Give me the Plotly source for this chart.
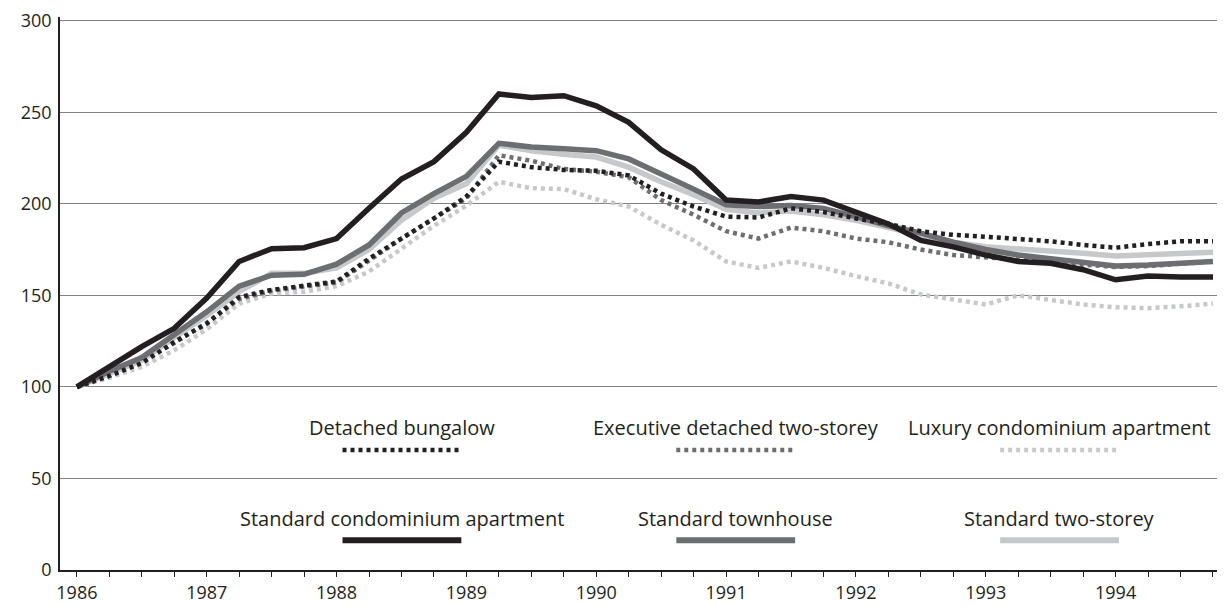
import plotly.graph_objects as go

# --- Data: quarterly index (1986 Q1 = 100), 1986 Q1 .. 1994 Q4 ----------------

years = [1986, 1987, 1988, 1989, 1990, 1991, 1992, 1993, 1994]
quarters = list(range(36))

detached_bungalow = [
    100, 106, 113, 124.5, 134.5, 149, 153, 155.5, 157.5, 170, 181, 192,
    204, 223, 220, 218.5, 218, 215.5, 205.5, 198.5, 193, 192.5, 197.5, 195.5,
    192, 189, 185, 183, 182, 181, 179.5, 177.5, 176, 178, 179.5, 179.5,
]
executive_two_storey = [
    100, 106, 114, 124, 135, 148, 152.5, 155, 157, 169, 181, 192,
    203, 226.5, 223.5, 219, 217.5, 214.5, 202, 194, 185, 181, 187, 185,
    181, 179, 175, 172, 171, 169.5, 168, 166.5, 165.5, 166, 167, 168.5,
]
luxury_condo = [
    100, 105, 111, 120, 131.5, 145.5, 151, 152, 155, 163, 175.5, 188,
    199, 212, 208.5, 208, 202.5, 198.5, 188.5, 180, 168.5, 165, 168.5, 165,
    160.5, 156.5, 150.5, 148, 145, 150, 147.5, 145, 143.5, 143, 144, 145.5,
]
standard_condo = [
    100, 111, 122, 132, 148.5, 168.5, 175.5, 176, 181, 197.5, 213.5, 223,
    239, 260, 258, 259, 253.5, 244.5, 229.5, 219, 202, 201, 204, 202,
    195.5, 189, 180, 176.5, 172, 168.5, 167.5, 164, 158.5, 160.5, 160, 160,
]
standard_townhouse = [
    100, 108.5, 116, 128.5, 141, 155, 161, 161.5, 167, 177.5, 195, 205.5,
    215, 233, 231, 230, 229, 224.5, 216.5, 208, 199.5, 198.5, 199, 197.5,
    193, 188, 184, 179, 175, 172, 170, 168, 166, 166.5, 167.5, 168.5,
]
standard_two_storey = [
    100, 107.5, 114.5, 127, 139, 152, 162, 162, 165, 175, 191, 203,
    211, 232, 229, 227, 225.5, 220, 212, 205, 197, 195, 196, 194,
    191, 187, 183, 179, 176.5, 175.5, 174.5, 173, 171.5, 172, 173, 173.5,
]

# --- Styling ------------------------------------------------------------------

INK = "#231f20"
DARK = "#6d6e71"
LIGHT = "#c7c8ca"
FONT = "Open Sans"
DOTS = "4px,4px"

series = [
    # (name, values, colour, dotted)
    ("Luxury condominium apartment", luxury_condo, LIGHT, True),
    ("Executive detached two-storey", executive_two_storey, DARK, True),
    ("Standard two-storey", standard_two_storey, LIGHT, False),
    ("Standard townhouse", standard_townhouse, DARK, False),
    ("Standard condominium apartment", standard_condo, INK, False),
    ("Detached bungalow", detached_bungalow, INK, True),
]

# legend layout (paper coords): name -> (x centre, text y, swatch y)
legend_slots = {
    "Detached bungalow": (0.2935, 0.257, 0.217),
    "Executive detached two-storey": (0.580, 0.257, 0.217),
    "Luxury condominium apartment": (0.858, 0.257, 0.217),
    "Standard condominium apartment": (0.2935, 0.094, 0.054),
    "Standard townhouse": (0.580, 0.094, 0.054),
    "Standard two-storey": (0.858, 0.094, 0.054),
}
SWATCH_HALF = 0.051

fig = go.Figure()
for name, values, colour, dotted in series:
    fig.add_trace(
        go.Scatter(
            x=quarters,
            y=values,
            mode="lines",
            name=name,
            line={
                "color": colour,
                "width": 4.5 if dotted else 5.5,
                "dash": DOTS if dotted else "solid",
            },
            showlegend=False,
            hoverinfo="skip",
        )
    )

shapes = []
annotations = []
for name, values, colour, dotted in series:
    xc, ty, sy = legend_slots[name]
    shapes.append(
        dict(
            type="line", xref="paper", yref="paper",
            x0=xc - SWATCH_HALF, x1=xc + SWATCH_HALF, y0=sy, y1=sy,
            line={
                "color": colour,
                "width": 4.5 if dotted else 6,
                "dash": DOTS if dotted else "solid",
            },
        )
    )
    annotations.append(
        dict(
            text=name, xref="paper", yref="paper", x=xc, y=ty,
            xanchor="center", yanchor="middle", showarrow=False,
            font={"family": FONT, "size": 20, "color": INK},
        )
    )

tick_text = [str(years[i // 4]) if i % 4 == 0 else "" for i in quarters]

# the page body keeps an 8px margin, so the figure is sized and offset to fit
fig.update_layout(
    width=1217,
    height=598,
    margin={"l": 52, "r": 0, "t": 6, "b": 36},
    paper_bgcolor="white",
    plot_bgcolor="white",
    font={"family": FONT, "size": 18, "color": INK},
    shapes=shapes,
    annotations=annotations,
    xaxis={
        "range": [-0.52, 35.37],
        "tickvals": quarters,
        "ticktext": tick_text,
        "ticks": "outside",
        "ticklen": 5,
        "tickwidth": 1,
        "tickcolor": INK,
        "showgrid": False,
        "zeroline": False,
        "showline": True,
        "linecolor": INK,
        "linewidth": 1.5,
        "ticklabelstandoff": 1,
        "tickfont": {"family": FONT, "size": 18, "color": INK},
    },
    yaxis={
        "range": [0, 302],
        "tickvals": [0, 50, 100, 150, 200, 250, 300],
        "showgrid": True,
        "gridcolor": "#808285",
        "gridwidth": 1.2,
        "zeroline": False,
        "showline": True,
        "linecolor": INK,
        "linewidth": 1.5,
        "ticks": "",
        "ticklabelstandoff": 3,
        "ticklabeloverflow": "allow",
        "tickfont": {"family": FONT, "size": 18, "color": INK},
    },
)

fig.write_html("out.html")
